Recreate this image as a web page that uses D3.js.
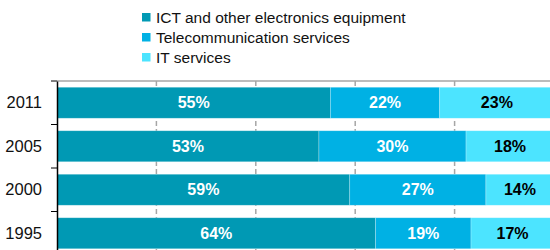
<!DOCTYPE html>
<html>
<head>
<meta charset="utf-8">
<script src="https://cdn.jsdelivr.net/npm/d3@7"></script>
<style>
  body { margin: 0; background: #fff; }
  svg { display: block; font-family: "Liberation Sans", Arial, sans-serif; }
</style>
</head>
<body>
<svg id="chart" width="550" height="250"></svg>
<script>
// data (shares in %)
var years = ["2011", "2005", "2000", "1995"];
var seriesNames = ["ICT and other electronics equipment", "Telecommunication services", "IT services"];
var ictValues = [55.0, 52.7, 58.9, 64.1];
var telecomValues = [22.0, 29.6, 27.4, 19.2];
var itValues = [23.0, 17.7, 13.7, 16.7];
var gridTicks = [0, 20, 40, 60, 80, 100];

var colors = ["#0099b4", "#00b1e4", "#4ce4ff"];
var labelColors = ["#fff", "#fff", "#000"];

var svg = d3.select("#chart");

var x = d3.scaleLinear().domain([0, 100]).range([57, 554]);
var y = d3.scaleBand().domain(years).range([81, 255]).paddingInner(0.287).paddingOuter(0.1435);

// legend
var legend = svg.append("g");
seriesNames.forEach(function (name, i) {
  var row = legend.append("g").attr("transform", "translate(142," + (17 + i * 20) + ")");
  row.append("rect").attr("x", 0).attr("y", -4).attr("width", 8.5).attr("height", 8.5).attr("fill", colors[i]);
  row.append("text").attr("x", 14).attr("y", 5.5).attr("font-size", "15.5px").attr("fill", "#111").text(name);
});

// grid lines (dashed, behind bars)
svg.append("g").selectAll("line")
  .data(gridTicks.slice(1))
  .enter().append("line")
  .attr("x1", function (d) { return x(d); })
  .attr("x2", function (d) { return x(d); })
  .attr("y1", 81).attr("y2", 250)
  .attr("stroke", "#a6a6a6").attr("stroke-width", 1.5)
  .attr("stroke-dasharray", "5,3");

// top border
svg.append("line").attr("x1", 57).attr("x2", 550).attr("y1", 81).attr("y2", 81)
  .attr("stroke", "#a6a6a6").attr("stroke-width", 1.5);

// stacked data
var rows = years.map(function (yr, i) {
  return { year: yr, values: [ictValues[i], telecomValues[i], itValues[i]] };
});

var fmt = d3.format(".0f");

var barGroups = svg.append("g").selectAll("g")
  .data(rows)
  .enter().append("g");

barGroups.each(function (d) {
  var g = d3.select(this);
  var start = 0;
  d.values.forEach(function (v, k) {
    var x0 = x(start), x1 = x(start + v);
    g.append("rect")
      .attr("x", x0).attr("y", y(d.year))
      .attr("width", x1 - x0).attr("height", y.bandwidth())
      .attr("fill", colors[k])
      .attr("stroke", "rgba(255,255,255,0.35)").attr("stroke-width", 0.7);
    g.append("text")
      .attr("x", (x0 + x1) / 2)
      .attr("y", y(d.year) + y.bandwidth() / 2 + 5.5)
      .attr("text-anchor", "middle")
      .attr("font-size", "16px").attr("font-weight", "bold")
      .attr("fill", labelColors[k])
      .text(fmt(v) + "%");
    start += v;
  });
});

// y axis
var yAxis = svg.append("g")
  .attr("transform", "translate(57,0)")
  .call(d3.axisLeft(y).tickSize(0).tickPadding(15));
yAxis.select(".domain").attr("stroke", "#000").attr("stroke-width", 1.5);
yAxis.selectAll("text").style("font-size", "16.5px").attr("fill", "#111")
  .style("font-family", "Liberation Sans, Arial, sans-serif");

// ticks between categories
var sep = [81].concat(years.map(function (yr) { return y(yr) + y.step() - y.step() * 0.1435; }));
svg.append("g").selectAll("line")
  .data(sep)
  .enter().append("line")
  .attr("x1", 51).attr("x2", 57)
  .attr("y1", function (d) { return d; }).attr("y2", function (d) { return d; })
  .attr("stroke", "#000").attr("stroke-width", 1);
</script>
</body>
</html>
